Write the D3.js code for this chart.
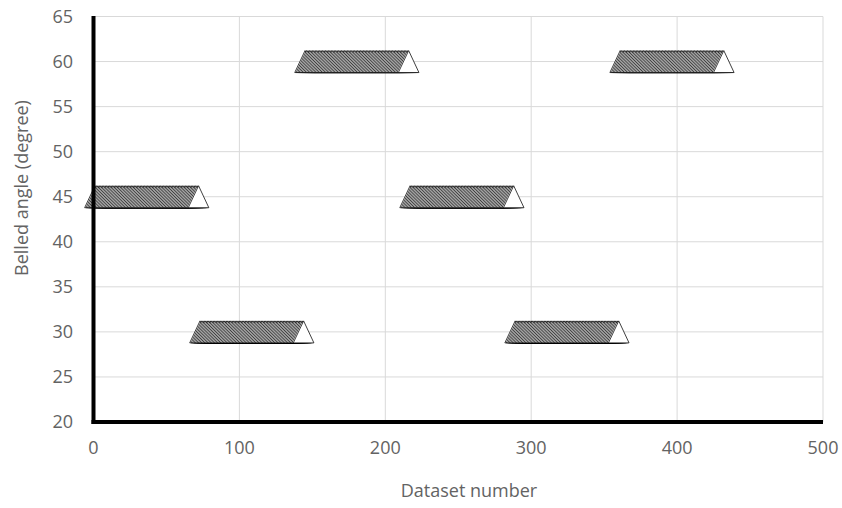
<!DOCTYPE html>
<html><head><meta charset="utf-8">
<script src="https://cdn.jsdelivr.net/npm/d3@7"></script>
<style>body{margin:0;background:#fff}svg{display:block}</style>
</head><body>
<svg id="c" width="842" height="508"></svg>
<script>
// Dataset blocks: belled angle held for a run of consecutive dataset numbers
const blockAngles = [45, 30, 60, 45, 30, 60];
const blockCounts = [72, 72, 72, 72, 72, 72];
const xTicks = [0, 100, 200, 300, 400, 500];
const yTicks = [20, 25, 30, 35, 40, 45, 50, 55, 60, 65];
const xLabel = "Dataset number";
const yLabel = "Belled angle (degree)";

const points = [];
let n = 1;
blockAngles.forEach((a, i) => {
  for (let k = 0; k < blockCounts[i]; k++) points.push({x: n++, y: a});
});

const svg = d3.select("#c");
const L = 93.5, R = 823, T = 16.5, B = 422;
const x = d3.scaleLinear().domain([0, 500]).range([L, R]);
const y = d3.scaleLinear().domain([20, 65]).range([B, T]);
const font = "'Open Sans', sans-serif";
const grey = "#636363";
const fs = 18;

// gridlines
svg.append("g").selectAll("line").data(yTicks).join("line")
  .attr("x1", L).attr("x2", R).attr("y1", d => y(d)).attr("y2", d => y(d))
  .attr("stroke", "#d9d9d9").attr("stroke-width", 1);
svg.append("g").selectAll("line").data(xTicks).join("line")
  .attr("y1", T).attr("y2", B).attr("x1", d => x(d)).attr("x2", d => x(d))
  .attr("stroke", "#d9d9d9").attr("stroke-width", 1);

// tick labels
svg.append("g").selectAll("text").data(yTicks).join("text")
  .attr("x", 73).attr("y", d => y(d)).attr("dy", "0.35em")
  .attr("text-anchor", "end").attr("font-family", font).attr("font-size", fs)
  .attr("fill", grey).text(d => d);
svg.append("g").selectAll("text").data(xTicks).join("text")
  .attr("x", d => x(d)).attr("y", 454)
  .attr("text-anchor", "middle").attr("font-family", font).attr("font-size", fs)
  .attr("fill", grey).text(d => d);

// axis titles
svg.append("text").attr("x", 469).attr("y", 497).attr("text-anchor", "middle")
  .attr("font-family", font).attr("font-size", fs).attr("fill", grey).text(xLabel);
svg.append("text").attr("transform", "translate(28,188) rotate(-90)")
  .attr("text-anchor", "middle").attr("font-family", font).attr("font-size", fs)
  .attr("fill", grey).text(yLabel);

// markers
const tri = "M0,-11L10.3,11L-10.3,11Z";
svg.append("g").selectAll("path").data(points).join("path")
  .attr("d", tri)
  .attr("transform", d => `translate(${x(d.x)},${y(d.y)})`)
  .attr("fill", "#fff").attr("stroke", "#000").attr("stroke-width", 0.75);

// axes (thick black)
svg.append("line").attr("x1", L).attr("x2", L).attr("y1", T - 0.5).attr("y2", B + 2)
  .attr("stroke", "#000").attr("stroke-width", 4);
svg.append("line").attr("x1", L - 2).attr("x2", R).attr("y1", B).attr("y2", B)
  .attr("stroke", "#000").attr("stroke-width", 4);
</script>
</body></html>
